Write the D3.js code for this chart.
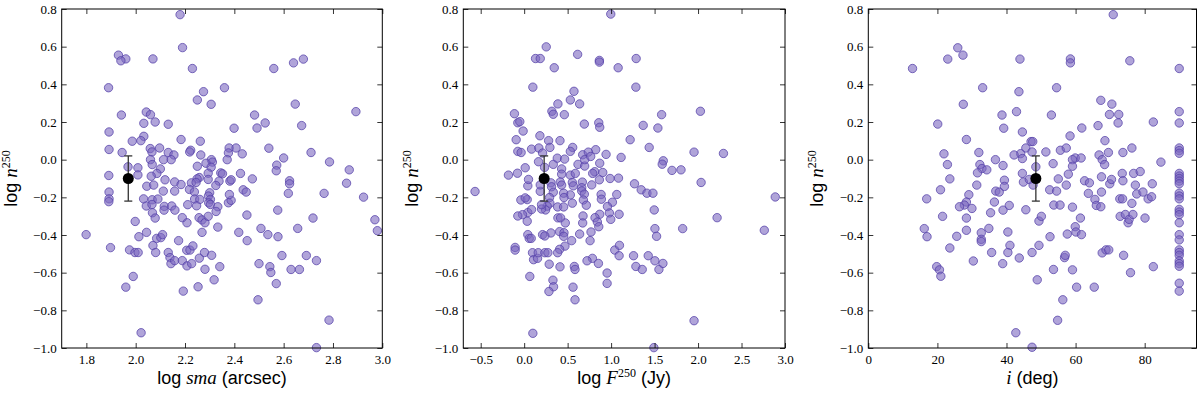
<!DOCTYPE html>
<html>
<head>
<meta charset="utf-8">
<script src="https://cdnjs.cloudflare.com/ajax/libs/d3/7.8.5/d3.min.js"></script>
<style>
  body { margin: 0; background: #fff; }
  .tick text { font-family: "Liberation Serif", serif; font-size: 13px; fill: #000; }
  .tick line { stroke: #000; stroke-width: 0.8; }
</style>
</head>
<body>
<script>
// log sma (arcsec) vs log n250
var smaPoints = [
  [2.18,0.77],[2.19,0.595],[1.93,0.555],[1.96,0.535],[1.94,0.525],[2.07,0.535],[2.23,0.484],[2.64,0.514],[2.68,0.534],[2.56,0.484],
  [1.89,0.382],[2.36,0.382],[2.275,0.361],[2.25,0.317],[2.306,0.294],[2.647,0.295],[2.893,0.255],[1.942,0.237],[2.043,0.253],[2.06,0.239],
  [2.482,0.237],[2.033,0.193],[2.079,0.2],[2.132,0.188],[2.525,0.195],[2.492,0.168],[2.673,0.181],[2.399,0.167],[1.892,0.147],[2.033,0.124],
  [2.021,0.101],[1.986,0.098],[2.184,0.107],[2.262,0.098],[1.892,0.054],[1.945,0.038],[2.059,0.059],[2.066,0.041],[2.097,0.062],[2.379,0.062],
  [2.407,0.062],[2.376,0.036],[2.54,0.061],[2.132,0.038],[2.155,0.025],[2.223,0.05],[2.219,0.041],[2.264,0.025],[2.432,0.031],[2.711,0.038],
  [2.6,0.009],[2.371,0.0],[2.06,0.0],[2.067,-0.026],[2.113,0.0],[2.144,0.0],[2.307,0.0],[2.311,-0.013],[2.285,-0.019],[2.25,-0.035],
  [2.786,-0.012],[1.969,-0.038],[2.009,-0.043],[2.1,-0.049],[2.306,-0.04],[2.294,-0.072],[2.345,-0.07],[2.352,-0.075],[2.425,-0.073],[2.572,-0.029],
  [2.57,-0.059],[2.866,-0.054],[1.891,-0.084],[2.009,-0.081],[2.086,-0.073],[2.063,-0.088],[2.258,-0.095],[2.294,-0.105],[2.338,-0.114],[2.473,-0.102],
  [2.249,-0.102],[2.119,-0.107],[2.158,-0.118],[2.184,-0.132],[2.226,-0.123],[2.245,-0.121],[2.325,-0.137],[2.382,-0.114],[2.387,-0.107],[2.045,-0.141],
  [2.073,-0.135],[2.218,-0.158],[2.112,-0.167],[2.158,-0.167],[2.238,-0.171],[2.3,-0.176],[2.295,-0.193],[2.303,-0.211],[2.436,-0.16],[2.448,-0.172],
  [1.892,-0.172],[1.892,-0.208],[1.891,-0.223],[2.032,-0.208],[2.067,-0.213],[2.09,-0.209],[2.239,-0.209],[2.26,-0.211],[2.296,-0.229],[2.303,-0.238],
  [2.376,-0.229],[2.387,-0.216],[2.38,-0.185],[2.619,-0.179],[2.624,-0.112],[2.624,-0.128],[2.764,-0.179],[2.924,-0.199],[2.855,-0.125],
  [2.043,-0.246],[2.066,-0.238],[2.116,-0.248],[2.146,-0.246],[2.159,-0.268],[2.211,-0.239],[2.247,-0.245],[2.333,-0.25],[2.326,-0.275],[2.068,-0.282],
  [2.079,-0.31],[2.115,-0.268],[2.257,-0.308],[2.269,-0.32],[2.281,-0.335],[2.294,-0.301],[1.998,-0.328],[2.208,-0.335],[2.189,-0.308],[2.576,-0.268],
  [2.451,-0.294],[2.719,-0.31],[2.657,-0.365],[2.97,-0.319],[2.98,-0.377],[1.799,-0.398],[2.044,-0.386],[2.013,-0.409],[2.085,-0.418],[2.102,-0.414],
  [2.109,-0.398],[2.174,-0.43],[2.333,-0.358],[2.269,-0.386],[2.418,-0.386],[2.508,-0.365],[2.536,-0.398],[2.577,-0.409],[2.452,-0.43],[2.07,-0.456],
  [2.132,-0.493],[2.139,-0.52],[2.143,-0.552],[2.158,-0.536],[2.189,-0.536],[2.207,-0.481],[2.22,-0.48],[2.232,-0.458],[2.208,-0.564],[2.227,-0.552],
  [2.258,-0.523],[2.279,-0.493],[2.308,-0.508],[2.281,-0.582],[2.318,-0.638],[2.341,-0.568],[2.5,-0.552],[2.593,-0.509],[2.692,-0.509],[2.733,-0.536],
  [2.544,-0.568],[2.548,-0.599],[2.63,-0.583],[2.664,-0.583],[2.57,-0.658],[1.898,-0.467],[1.975,-0.479],[1.997,-0.493],[2.01,-0.493],[2.081,-0.493],
  [1.99,-0.62],[1.96,-0.677],[2.193,-0.698],[2.253,-0.675],[2.496,-0.744],[2.784,-0.852],[2.022,-0.919],[2.733,-0.998]
]

// log F250 (Jy) vs log n250
var fluxPoints = [
  [0.996,0.773],[0.254,0.599],[0.615,0.559],[0.131,0.537],[0.185,0.537],[0.865,0.527],[0.865,0.518],[1.288,0.537],[0.346,0.488],[1.081,0.488],
  [0.1,0.385],[0.573,0.363],[1.285,0.385],[0.531,0.317],[0.638,0.296],[0.388,0.296],[0.319,0.257],[0.335,0.241],[0.462,0.239],[-0.112,0.244],
  [-0.073,0.196],[-0.05,0.202],[-0.012,0.152],[0.692,0.189],[0.858,0.196],[0.869,0.172],[1.369,0.182],[1.581,0.239],[1.538,0.168],[2.027,0.257],
  [-0.092,0.106],[0.181,0.127],[0.281,0.101],[0.412,0.101],[0.296,0.065],[-0.073,0.044],[-0.035,0.038],[0.085,0.056],[0.169,0.062],[0.212,0.035],
  [0.558,0.065],[0.531,0.044],[0.823,0.053],[0.673,0.026],[0.738,0.04],[0.942,0.028],[1.219,0.106],[1.438,0.065],[1.115,0.012],[1.6,-0.006],
  [1.588,-0.024],[1.954,0.04],[2.292,0.033],[1.7,-0.057],[1.804,-0.054],[2.035,-0.121],[2.888,-0.198],[2.219,-0.308],[2.762,-0.375],[1.823,-0.366],
  [1.954,-0.855],[1.492,-0.998],[-0.565,-0.169],[-0.181,-0.082],[-0.077,-0.072],[0.012,-0.043],[0.165,-0.011],[0.235,-0.041],[0.335,-0.025],[0.381,0.008],
  [0.465,0.003],[0.431,-0.049],[0.431,-0.077],[0.531,-0.082],[0.588,-0.073],[0.619,-0.025],[0.696,-0.034],[0.696,0.0],[0.765,0.017],[0.869,-0.019],
  [0.812,-0.064],[0.788,-0.073],[0.904,-0.068],[0.865,-0.107],[0.988,-0.1],[1.085,-0.098],[1.269,-0.128],[1.346,-0.16],[1.412,-0.178],[1.481,-0.178],
  [1.065,-0.185],[1.015,-0.226],[0.958,-0.249],[0.98,-0.283],[0.996,-0.317],[1.092,-0.29],[0.885,-0.185],[0.888,-0.21],[0.869,-0.29],[0.815,-0.308],
  [0.842,-0.331],[0.858,-0.356],[0.777,-0.134],[0.669,-0.119],[0.662,-0.149],[0.662,-0.166],[0.692,-0.183],[0.681,-0.214],[0.715,-0.242],[0.677,-0.299],
  [0.673,-0.336],[0.638,-0.395],[0.769,-0.384],[0.758,-0.43],[0.554,-0.121],[0.565,-0.139],[0.531,-0.187],[0.554,-0.231],[0.454,-0.178],[0.458,-0.201],
  [0.415,-0.119],[0.431,-0.135],[0.308,-0.123],[0.315,-0.144],[0.335,-0.173],[0.292,-0.201],[0.296,-0.231],[0.265,-0.247],[0.246,-0.267],[0.2,-0.262],
  [0.2,-0.239],[0.185,-0.168],[0.185,-0.134],[0.385,-0.251],[0.454,-0.251],[0.388,-0.309],[0.419,-0.309],[0.473,-0.336],[0.408,-0.382],[0.458,-0.388],
  [0.454,-0.407],[0.546,-0.43],[0.469,-0.459],[0.408,-0.476],[0.385,-0.494],[0.308,-0.389],[0.212,-0.398],[0.238,-0.405],[0.042,-0.398],[0.058,-0.418],
  [0.081,-0.418],[0.042,-0.281],[0.085,-0.265],[0.035,-0.327],[-0.019,-0.292],[-0.073,-0.299],[-0.038,-0.214],[0.035,-0.212],[0.042,-0.139],[0.05,-0.105],
  [0.012,-0.203],[-0.104,-0.466],[-0.104,-0.48],[0.096,-0.494],[0.108,-0.531],[0.154,-0.524],[0.162,-0.494],[0.238,-0.494],[0.273,-0.494],[0.288,-0.555],
  [0.065,-0.62],[0.331,-0.64],[0.338,-0.675],[0.285,-0.7],[0.1,-0.922],[0.412,-0.569],[0.577,-0.567],[0.585,-0.583],[0.562,-0.677],[0.585,-0.744],
  [0.785,-0.524],[0.723,-0.537],[0.854,-0.551],[0.954,-0.602],[0.954,-0.657],[1.042,-0.48],[1.092,-0.51],[1.096,-0.455],[1.258,-0.51],[1.285,-0.567],
  [1.358,-0.583],[1.427,-0.51],[1.504,-0.537],[1.55,-0.583],[1.596,-0.551],[1.496,-0.267],[1.504,-0.366],[1.523,-0.407]
]

// inclination i (deg) vs log n250
var incPoints = [
  [70.9,0.77],[25.9,0.594],[27.4,0.555],[23.0,0.534],[43.9,0.534],[58.5,0.535],[58.5,0.514],[75.7,0.525],[12.8,0.484],[33.1,0.382],
  [43.6,0.361],[54.5,0.382],[27.5,0.294],[67.3,0.315],[70.5,0.295],[42.9,0.255],[38.7,0.237],[53.0,0.237],[69.8,0.24],[72.5,0.24],
  [72.3,0.195],[82.5,0.2],[20.1,0.189],[39.2,0.167],[61.8,0.168],[66.5,0.181],[44.6,0.147],[58.4,0.126],[28.4,0.107],[47.1,0.096],
  [47.6,0.096],[68.5,0.101],[45.6,0.062],[47.4,0.041],[44.1,0.032],[42.2,0.025],[44.6,0.006],[32.0,0.038],[36.8,0.0],[51.4,0.041],
  [55.6,0.05],[57.3,0.062],[59.9,0.009],[59.1,0.0],[59.1,-0.035],[61.6,0.009],[66.8,0.025],[67.7,0.0],[68.4,-0.026],[69.5,0.038],
  [73.7,0.038],[76.3,0.062],[84.7,-0.013],[21.9,0.031],[22.9,-0.026],[23.6,-0.102],[20.9,-0.16],[16.9,-0.208],[21.5,-0.301],[16.2,-0.366],
  [17.0,-0.409],[23.6,-0.469],[19.8,-0.568],[20.6,-0.585],[21.0,-0.619],[32.3,-0.026],[32.9,-0.047],[31.6,-0.07],[34.3,-0.054],[31.4,-0.135],
  [36.9,-0.167],[37.9,-0.172],[29.1,-0.186],[28.4,-0.225],[27.8,-0.241],[26.4,-0.25],[30.0,-0.259],[28.4,-0.31],[28.4,-0.375],[25.6,-0.407],
  [32.7,-0.388],[32.7,-0.423],[32.7,-0.435],[34.9,-0.365],[36.5,-0.225],[35.4,-0.282],[35.7,-0.493],[30.4,-0.538],[39.0,-0.031],[39.4,-0.109],
  [39.4,-0.142],[39.0,-0.268],[40.8,-0.243],[40.4,-0.384],[41.0,-0.455],[40.4,-0.493],[38.9,-0.552],[43.7,-0.522],[42.7,-0.919],[47.4,-0.996],
  [47.4,-0.493],[44.6,-0.073],[44.9,-0.119],[45.6,-0.266],[46.6,-0.105],[47.7,-0.135],[48.5,-0.038],[48.9,-0.638],[49.4,-0.455],[49.4,-0.326],
  [50.1,-0.301],[52.6,-0.409],[52.5,-0.16],[53.5,-0.021],[54.5,-0.167],[55.0,-0.102],[53.7,-0.241],[55.5,-0.241],[53.6,-0.583],[56.3,-0.744],
  [54.8,-0.853],[56.8,-0.52],[57.0,-0.508],[57.3,-0.135],[57.9,-0.077],[57.6,-0.395],[59.1,-0.252],[59.1,-0.585],[59.9,-0.356],[60.1,-0.384],
  [60.3,-0.677],[61.4,-0.31],[61.7,-0.398],[62.6,-0.112],[64.0,-0.123],[63.7,-0.179],[65.6,-0.211],[66.0,-0.243],[65.4,-0.677],[67.3,-0.25],
  [67.5,-0.091],[67.5,-0.172],[67.7,-0.495],[68.8,-0.479],[69.6,-0.479],[69.9,-0.128],[70.4,-0.105],[72.8,-0.208],[73.6,-0.208],[72.9,-0.301],
  [73.5,-0.073],[73.7,-0.112],[74.4,-0.291],[73.9,-0.508],[75.2,-0.335],[75.5,-0.317],[75.9,-0.6],[76.3,-0.232],[76.6,-0.291],[76.8,-0.073],
  [77.3,-0.135],[77.7,-0.182],[78.7,-0.063],[79.5,-0.172],[80.1,-0.31],[81.0,-0.208],[82.0,-0.197],[82.2,-0.128],[82.5,-0.568],
  // edge-on column
  [90,0.484],[90,0.255],[90,0.195],[90,0.062],[90,0.048],[90,0.034],[90,-0.073],[90,-0.087],[90,-0.1],[90,-0.114],
  [90,-0.128],[90,-0.178],[90,-0.193],[90,-0.208],[90,-0.264],[90,-0.278],[90,-0.292],[90,-0.335],[90,-0.398],[90,-0.426],
  [90,-0.479],[90,-0.493],[90,-0.508],[90,-0.538],[90,-0.552],[90,-0.566],[90,-0.656],[90,-0.698]
]

// median point with its error bar, one per panel (x), shared y
var medianX = [1.97, 0.23, 48.5]
var medianY = -0.1
var medianErr = [0.02, -0.22]   // top, bottom of the bar

var yTicks = [0.8, 0.6, 0.4, 0.2, 0.0, -0.2, -0.4, -0.6, -0.8, -1.0]
var smaTicks = [1.8, 2.0, 2.2, 2.4, 2.6, 2.8, 3.0]
var fluxTicks = [-0.5, 0.0, 0.5, 1.0, 1.5, 2.0, 2.5, 3.0]
var incTicks = [0, 20, 40, 60, 80]

var svg = d3.select("body")
  .append("svg")
  .attr("width", 1200)
  .attr("height", 395)

svg.append("rect").attr("width", 1200).attr("height", 395).attr("fill", "#fff")

var top_ = 9, bottom_ = 348

var panels = [
  {pts: smaPoints, left: 61.7, right: 382.3, domain: [1.7, 3.0], ticks: smaTicks, fmt: d3.format(".1f"), mx: medianX[0], label: "sma"},
  {pts: fluxPoints, left: 463.3, right: 785, domain: [-0.7, 3.0], ticks: fluxTicks, fmt: d3.format(".1f"), mx: medianX[1], label: "flux"},
  {pts: incPoints, left: 868.3, right: 1196.5, domain: [0, 95], ticks: incTicks, fmt: d3.format("d"), mx: medianX[2], label: "inc"}
]

panels.forEach(function(p) {
  var x = d3.scaleLinear().domain(p.domain).range([p.left, p.right])
  var y = d3.scaleLinear().domain([-1.0, 0.8]).range([bottom_, top_])
  var g = svg.append("g")

  // scatter points
  g.selectAll("pts")
    .data(p.pts)
    .enter()
    .append("circle")
      .attr("cx", function(d){ return x(d[0]) })
      .attr("cy", function(d){ return y(d[1]) })
      .attr("r", 4.2)
      .attr("fill", "#7b68c0")
      .attr("fill-opacity", 0.6)
      .attr("stroke", "#5440a8")
      .attr("stroke-opacity", 0.75)
      .attr("stroke-width", 1)

  // error bar and median
  var bx = x(p.mx)
  g.append("line")
    .attr("x1", bx).attr("x2", bx)
    .attr("y1", y(medianErr[0])).attr("y2", y(medianErr[1]))
    .attr("stroke", "#333").attr("stroke-width", 1.3)
  medianErr.forEach(function(e) {
    g.append("line")
      .attr("x1", bx - 4).attr("x2", bx + 4)
      .attr("y1", y(e)).attr("y2", y(e))
      .attr("stroke", "#333").attr("stroke-width", 1.3)
  })
  g.append("circle")
    .attr("cx", bx).attr("cy", y(medianY))
    .attr("r", 5.5).attr("fill", "#000")

  // axes, ticks pointing inward on all sides
  g.append("g").attr("transform", "translate(0," + bottom_ + ")")
    .call(d3.axisBottom(x).tickValues(p.ticks).tickFormat(p.fmt).tickSize(-5).tickPadding(7))
  g.append("g").attr("transform", "translate(0," + top_ + ")")
    .call(d3.axisTop(x).tickValues(p.ticks).tickFormat("").tickSize(-5))
  g.append("g").attr("transform", "translate(" + p.left + ",0)")
    .call(d3.axisLeft(y).tickValues(yTicks).tickFormat(d3.format(".1f")).tickSize(-5).tickPadding(5))
  g.append("g").attr("transform", "translate(" + p.right + ",0)")
    .call(d3.axisRight(y).tickValues(yTicks).tickFormat("").tickSize(-5))
  g.selectAll(".domain").remove()

  g.append("rect")
    .attr("x", p.left).attr("y", top_)
    .attr("width", p.right - p.left).attr("height", bottom_ - top_)
    .attr("fill", "none").attr("stroke", "#000").attr("stroke-width", 1)

  // x label
  var cx = (p.left + p.right) / 2
  var xl = g.append("text")
    .attr("x", cx).attr("y", 384)
    .attr("text-anchor", "middle")
    .style("font-family", "Liberation Sans, Arial, sans-serif")
    .style("font-size", "18px")
  if (p.label == "sma") {
    xl.append("tspan").text("log ")
    xl.append("tspan").text("sma").style("font-family", "Liberation Serif, serif").style("font-style", "italic").style("font-size", "19px")
    xl.append("tspan").text(" (arcsec)")
  } else if (p.label == "flux") {
    xl.append("tspan").text("log ")
    xl.append("tspan").text("F").style("font-family", "Liberation Serif, serif").style("font-style", "italic").style("font-size", "19px")
    xl.append("tspan").text("250").attr("dy", -7).style("font-family", "Liberation Serif, serif").style("font-size", "12px")
    xl.append("tspan").text(" (Jy)").attr("dy", 7)
  } else {
    xl.append("tspan").text("i").style("font-family", "Liberation Serif, serif").style("font-style", "italic").style("font-size", "19px")
    xl.append("tspan").text(" (deg)")
  }

  // y label
  var yl = g.append("text")
    .attr("transform", "translate(" + (p.left - 45) + "," + ((top_ + bottom_) / 2) + ")rotate(-90)")
    .attr("text-anchor", "middle")
    .style("font-family", "Liberation Sans, Arial, sans-serif")
    .style("font-size", "18px")
  yl.append("tspan").text("log ")
  yl.append("tspan").text("n").style("font-family", "Liberation Serif, serif").style("font-style", "italic").style("font-size", "19px")
  yl.append("tspan").text("250").attr("dy", -7).style("font-family", "Liberation Serif, serif").style("font-size", "12px")
})
</script>
</body>
</html>
